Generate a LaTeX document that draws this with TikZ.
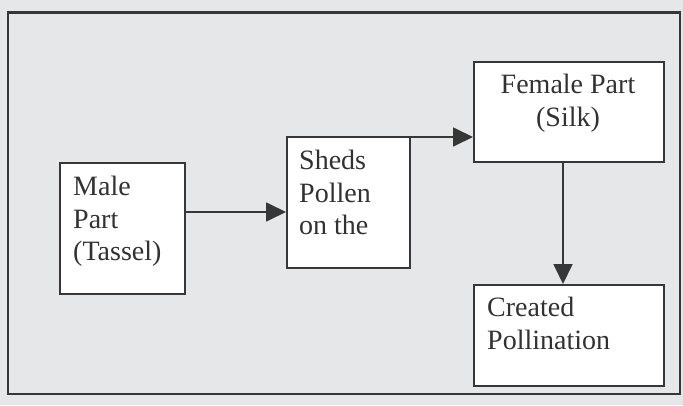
\documentclass[tikz,border=0pt]{standalone}
\usepackage{fontspec}
\setmainfont{Liberation Serif}
\usetikzlibrary{arrows.meta}
\definecolor{bggray}{RGB}{230,231,232}
\definecolor{ink}{RGB}{55,55,55}
\definecolor{txt}{RGB}{50,50,50}
\tikzset{
  box/.style={draw=ink, line width=2pt, fill=white, inner sep=0pt, anchor=north west},
  label/.style={text=txt, inner sep=0pt, font={\fontsize{28}{32.5}\selectfont}},
  arr/.style={draw=ink, line width=1.8pt, -{Triangle[length=20pt,width=19pt]}},
}
\begin{document}
\begin{tikzpicture}[x=1pt,y=-1pt]
\useasboundingbox (0,0) rectangle (683,405);
\fill[bggray] (0,0) rectangle (683,405);
\draw[ink, line width=2.2pt] (8,12.5) rectangle (680,394);
% boxes
\node[box, minimum width=125pt, minimum height=131pt] (male) at (59,162) {};
\node[box, minimum width=123pt, minimum height=131pt] (sheds) at (286,136) {};
\node[box, minimum width=190pt, minimum height=100pt] (female) at (473,61) {};
\node[box, minimum width=190pt, minimum height=101pt] (created) at (473,284) {};
% texts
\node[label, align=left, anchor=north west] (maletext) at (73,176) {Male\\Part\\(Tassel)};
\node[label, align=left, anchor=north west] (shedstext) at (299,150) {Sheds\\Pollen\\on the};
\node[label, align=center, anchor=north] (femaletext) at (568,74) {Female Part\\(Silk)};
\node[label, align=left, anchor=north west] (createdtext) at (487,297) {Created\\Pollination};
% connectors
\coordinate (a1) at ([yshift=-50pt]male.north east);
\draw[arr] (a1) -- (a1 -| sheds.west);
\coordinate (a2) at ([yshift=-1pt]sheds.north east);
\draw[arr] (a2) -- (a2 -| female.west);
\coordinate (a3) at ([xshift=-6pt]female.south);
\draw[arr] (a3) -- (a3 |- created.north);
\end{tikzpicture}
\end{document}
